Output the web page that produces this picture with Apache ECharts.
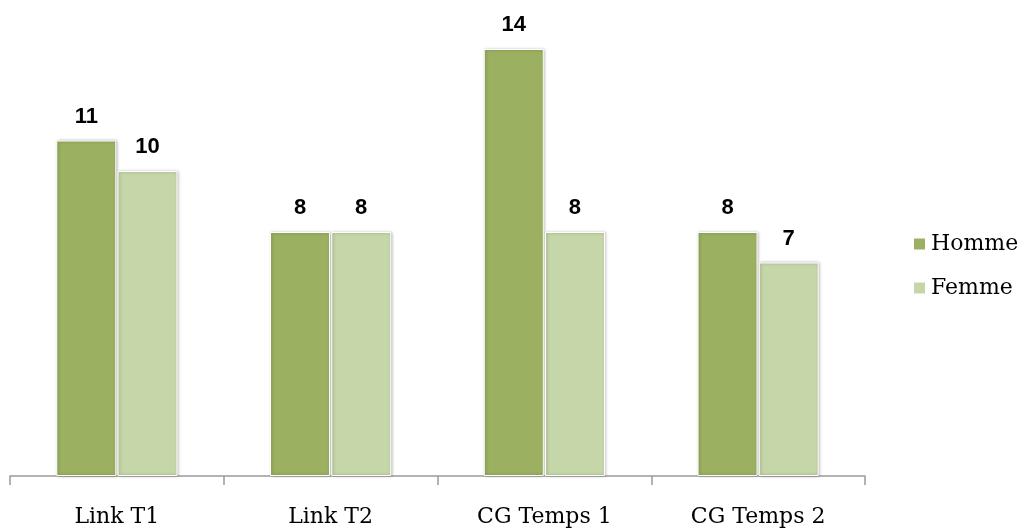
<!DOCTYPE html>
<html>
<head>
<meta charset="utf-8">
<script src="https://cdn.jsdelivr.net/npm/echarts@6/dist/echarts.min.js"></script>
<style>
html, body { margin: 0; padding: 0; background: #fff; }
#chart { width: 1021px; height: 531px; }
</style>
</head>
<body>
<div id="chart"></div>
<script>
const categories = ['Link T1', 'Link T2', 'CG Temps 1', 'CG Temps 2'];
const homme = [11, 8, 14, 8];
const femme = [10, 8, 8, 7];

const barStyle = color => ({
    color,
    borderColor: '#ffffff',
    borderWidth: 1,
    shadowBlur: 3,
    shadowColor: 'rgba(0,0,0,0.3)',
    shadowOffsetX: 1,
});

const labelStyle = {
    show: true,
    position: 'top',
    distance: 13,
    color: '#000',
    fontFamily: 'Liberation Sans',
    fontWeight: 'bold',
    fontSize: 22,
};

const myChart = echarts.init(document.getElementById('chart'));
myChart.setOption({
    animation: false,
    grid: { left: 10, right: 156, top: 49, bottom: 55 },
    legend: {
        orient: 'vertical',
        left: 907,
        top: 228,
        itemGap: 22,
        itemWidth: 13,
        itemHeight: 13,
        icon: 'rect',
        textStyle: { fontFamily: 'DejaVu Serif', fontSize: 22, color: '#000' },
        data: ['Homme', 'Femme'],
    },
    xAxis: {
        type: 'category',
        data: categories,
        axisLine: { lineStyle: { color: '#9a9a9a', width: 1.5 } },
        axisTick: { show: true, length: 9, lineStyle: { color: '#9a9a9a', width: 1.5 } },
        axisLabel: { fontFamily: 'DejaVu Serif', fontSize: 22, color: '#000', margin: 30 },
    },
    yAxis: {
        type: 'value',
        min: 0,
        max: 14,
        show: false,
    },
    series: [
        {
            name: 'Homme',
            type: 'bar',
            data: homme,
            barWidth: 60,
            barGap: '2%',
            itemStyle: barStyle('#9bb061'),
            label: labelStyle,
        },
        {
            name: 'Femme',
            type: 'bar',
            data: femme,
            barWidth: 60,
            itemStyle: barStyle('#c5d6a8'),
            label: labelStyle,
        },
    ],
});
</script>
</body>
</html>
